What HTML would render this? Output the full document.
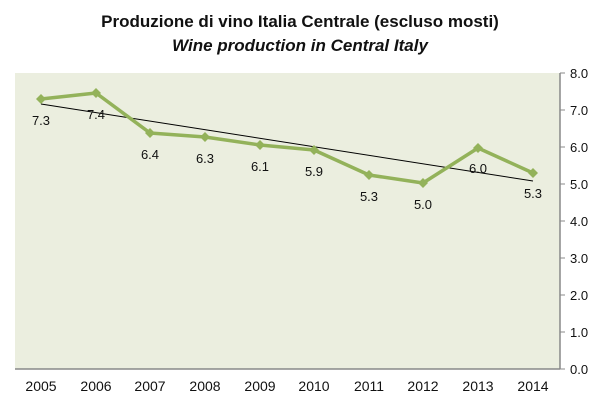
<!DOCTYPE html><html><head><style>body{margin:0;background:#fff}svg{display:block}text{font-family:"Liberation Sans",sans-serif}</style></head><body>
<svg width="600" height="405" viewBox="0 0 600 405">
<text x="300" y="27" text-anchor="middle" font-size="17" font-weight="bold" fill="#111">Produzione di vino Italia Centrale (escluso mosti)</text>
<text x="300" y="51" text-anchor="middle" font-size="17" font-weight="bold" font-style="italic" fill="#111">Wine production in Central Italy</text>
<rect x="15" y="73" width="545" height="296" fill="#ebeedf"/>
<line x1="15" y1="369" x2="560" y2="369" stroke="#888" stroke-width="1.5"/>
<line x1="560" y1="73" x2="560" y2="369" stroke="#888" stroke-width="1.5"/>
<g stroke="#888"><line x1="560" y1="73" x2="565" y2="73"/><line x1="560" y1="110" x2="565" y2="110"/><line x1="560" y1="147" x2="565" y2="147"/><line x1="560" y1="184" x2="565" y2="184"/><line x1="560" y1="221" x2="565" y2="221"/><line x1="560" y1="258" x2="565" y2="258"/><line x1="560" y1="295" x2="565" y2="295"/><line x1="560" y1="332" x2="565" y2="332"/><line x1="560" y1="369" x2="565" y2="369"/></g>
<g font-size="13" fill="#111"><text x="570" y="78">8.0</text><text x="570" y="115">7.0</text><text x="570" y="152">6.0</text><text x="570" y="189">5.0</text><text x="570" y="226">4.0</text><text x="570" y="263">3.0</text><text x="570" y="300">2.0</text><text x="570" y="337">1.0</text><text x="570" y="374">0.0</text></g>
<g font-size="14" fill="#111" text-anchor="middle"><text x="41" y="391">2005</text><text x="96" y="391">2006</text><text x="150" y="391">2007</text><text x="205" y="391">2008</text><text x="260" y="391">2009</text><text x="314" y="391">2010</text><text x="369" y="391">2011</text><text x="423" y="391">2012</text><text x="478" y="391">2013</text><text x="533" y="391">2014</text></g>
<line x1="41" y1="104" x2="533" y2="181" stroke="#000" stroke-width="1"/>
<polyline fill="none" stroke="#93b25a" stroke-width="3.5" stroke-linejoin="round" points="41,99 96,93 150,133 205,137 260,145 314,150 369,175 423,183 478,148 533,173"/>
<g fill="#93b25a"><path d="M41,94l5,5l-5,5l-5,-5z"/><path d="M96,88l5,5l-5,5l-5,-5z"/><path d="M150,128l5,5l-5,5l-5,-5z"/><path d="M205,132l5,5l-5,5l-5,-5z"/><path d="M260,140l5,5l-5,5l-5,-5z"/><path d="M314,145l5,5l-5,5l-5,-5z"/><path d="M369,170l5,5l-5,5l-5,-5z"/><path d="M423,178l5,5l-5,5l-5,-5z"/><path d="M478,143l5,5l-5,5l-5,-5z"/><path d="M533,168l5,5l-5,5l-5,-5z"/></g>
<g font-size="13" fill="#111" text-anchor="middle"><text x="41" y="125">7.3</text><text x="96" y="119">7.4</text><text x="150" y="159">6.4</text><text x="205" y="163">6.3</text><text x="260" y="171">6.1</text><text x="314" y="176">5.9</text><text x="369" y="201">5.3</text><text x="423" y="209">5.0</text><text x="478" y="173">6.0</text><text x="533" y="198">5.3</text></g>
</svg></body></html>
